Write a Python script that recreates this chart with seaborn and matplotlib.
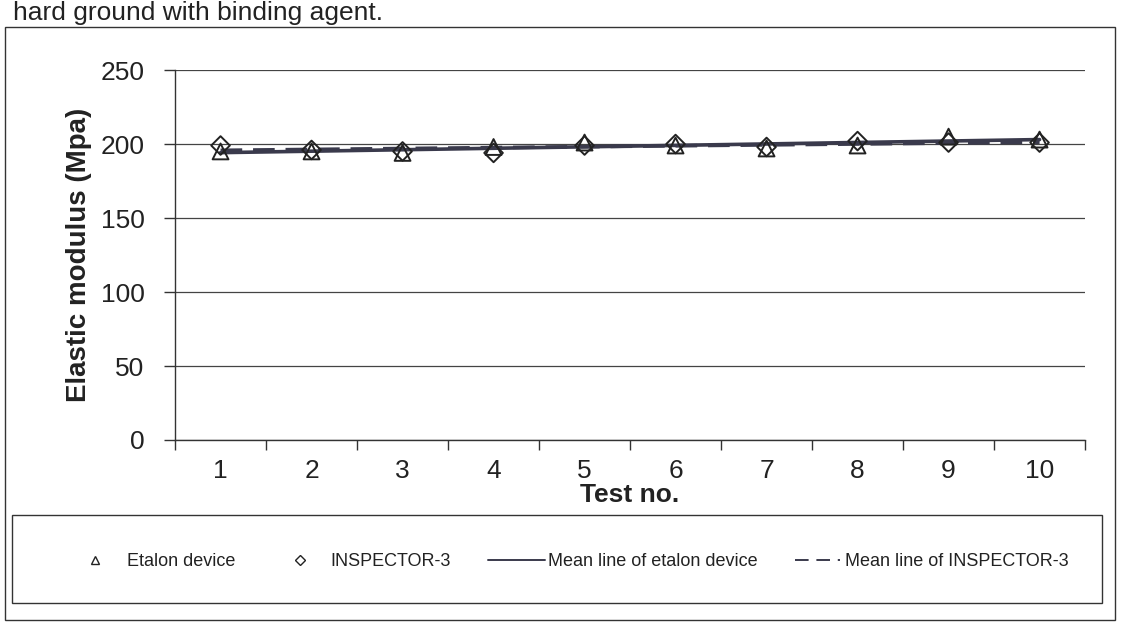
import numpy as np
import pandas as pd
import matplotlib
matplotlib.use("Agg")
import matplotlib.pyplot as plt
from matplotlib.lines import Line2D
from matplotlib.patches import Rectangle
import seaborn as sns

# ---- data ----
tests = [1, 2, 3, 4, 5, 6, 7, 8, 9, 10]
etalon = [195, 195, 194, 198, 201, 199, 197, 199, 205, 203]
inspector = [199, 196, 195, 194, 199, 200, 198, 202, 201, 201]
y_ticks = [0, 50, 100, 150, 200, 250]

sns.set_theme(style="white")
plt.rcParams['font.family'] = ['Liberation Sans', 'DejaVu Sans']

df = pd.DataFrame({"test": tests, "Etalon device": etalon, "INSPECTOR-3": inspector})

fig = plt.figure(figsize=(11.25, 6.31), dpi=100)
ax = fig.add_axes([0.1556, 0.3027, 0.8089, 0.5863])

line_col = "#3a3a4c"
txt_col = "#222222"
sns.regplot(data=df, x="test", y="Etalon device", ax=ax, ci=None, scatter=False,
            truncate=True, line_kws=dict(color=line_col, lw=2.6, ls="-"))
sns.regplot(data=df, x="test", y="INSPECTOR-3", ax=ax, ci=None, scatter=False,
            truncate=True, line_kws=dict(color=line_col, lw=2.6, ls=(0, (6, 3))))
sns.scatterplot(data=df, x="test", y="Etalon device", ax=ax, marker="^", s=130,
                facecolor="none", edgecolor=txt_col, linewidth=1.4, zorder=3)
sns.scatterplot(data=df, x="test", y="INSPECTOR-3", ax=ax, marker="D", s=90,
                facecolor="none", edgecolor=txt_col, linewidth=1.4, zorder=3)

ax.set_xlim(0.5, 10.5)
ax.set_ylim(0, 250)
ax.set_yticks(y_ticks)
ax.set_xticks(tests)
ax.set_xticks(np.arange(0.5, 11, 1), minor=True)
ax.tick_params(axis="x", which="major", length=0, pad=14, labelsize=19)
ax.tick_params(axis="x", which="minor", length=7, width=1, direction="out", bottom=True, color="#333333")
ax.tick_params(axis="y", which="major", length=8, width=1, direction="out", left=True,
               labelsize=19, pad=14, color="#333333")
for t in ax.get_yticklabels() + ax.get_xticklabels():
    t.set_color(txt_col)
ax.yaxis.grid(True, color="#444444", lw=0.9)
ax.xaxis.grid(False)
for s in ["top", "right"]:
    ax.spines[s].set_visible(False)
for s in ["left", "bottom"]:
    ax.spines[s].set_color("#333333")
    ax.spines[s].set_linewidth(1.0)
ax.set_xlabel("Test no.", fontsize=19, fontweight="bold", color=txt_col, labelpad=0)
ax.set_ylabel("Elastic modulus (Mpa)", fontsize=20, fontweight="bold", color=txt_col, labelpad=6)

# outer chart frame
fig.patches.append(Rectangle((5/1125, 1-620/631), 1110/1125, (620-27)/631, transform=fig.transFigure,
                             fill=False, edgecolor="#333333", lw=1.0))

# legend entries placed individually
W = 1125.0
leg_y = 1 - 562/631
entries = [
    (Line2D([], [], ls="none", marker="^", markersize=6, mfc="none", mec=txt_col, mew=1.0),
     "Etalon device", 86, 1.0, 1.28),
    (Line2D([], [], ls="none", marker="D", markersize=5, mfc="none", mec=txt_col, mew=1.0),
     "INSPECTOR-3", 291, 1.0, 1.17),
    (Line2D([], [], color=line_col, lw=1.4, ls="-"),
     "Mean line of etalon device", 488, 3.17, 0.17),
    (Line2D([], [], color=line_col, lw=1.4, ls=(0, (7, 4))),
     "Mean line of INSPECTOR-3", 795, 2.5, 0.28),
]
for h, lab, x0, hl, pad in entries:
    lg = fig.legend([h], [lab], loc="center left", bbox_to_anchor=(x0/W, leg_y), frameon=False,
                    fontsize=13, handlelength=hl, handletextpad=pad, borderpad=0, borderaxespad=0)
    for t in lg.get_texts():
        t.set_color(txt_col)

fig.patches.append(Rectangle((12/1125, 1-603/631), 1090/1125, (603-515)/631, transform=fig.transFigure,
                             fill=False, edgecolor="#333333", lw=1.0))

fig.text(13/1125, 1-20/631, "hard ground with binding agent.", fontsize=19, color=txt_col,
         ha="left", va="baseline")

fig.savefig("out.png", dpi=100)
